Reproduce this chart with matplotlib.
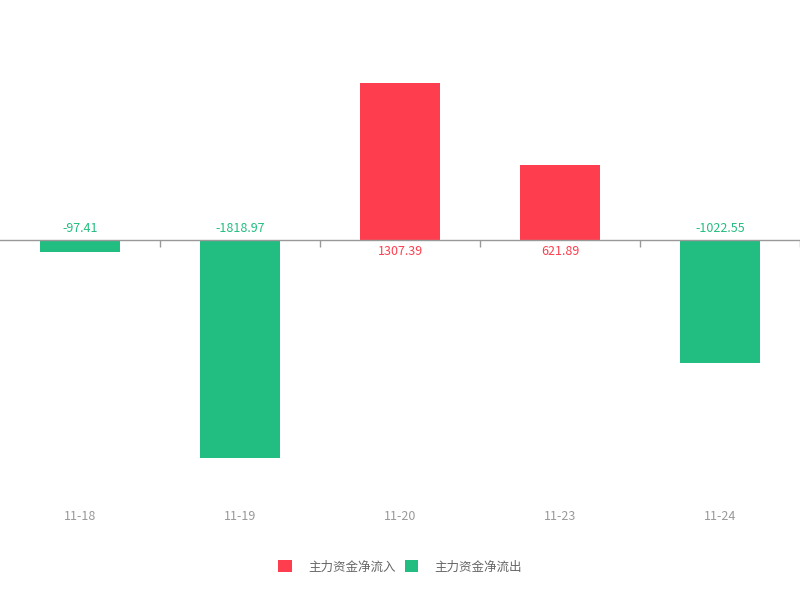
import numpy as np
import matplotlib
matplotlib.use("Agg")
import matplotlib.pyplot as plt
from matplotlib.patches import Patch
from matplotlib.transforms import blended_transform_factory

plt.rcParams['font.family'] = ['Noto Sans CJK SC', 'DejaVu Sans']

dates = ['11-18', '11-19', '11-20', '11-23', '11-24']
flows = [-97.41, -1818.97, 1307.39, 621.89, -1022.55]
labels = ['-97.41', '-1818.97', '1307.39', '621.89', '-1022.55']
legend_names = ['主力资金净流入', '主力资金净流出']

red = '#fe3e4e'
green = '#22bd80'

fig = plt.figure(figsize=(8, 6), dpi=100)
ax = fig.add_axes([0, 100 / 600, 1, 500 / 600])

x = np.arange(len(dates))
colors = [red if v > 0 else green for v in flows]
ax.bar(x, flows, width=0.5, color=colors, zorder=2)

ax.set_xlim(-0.5, len(dates) - 0.5)
ax.set_ylim(-260 / 0.12, 240 / 0.12)

# axis line at zero with ticks between categories
for s in ['top', 'right', 'left']:
    ax.spines[s].set_visible(False)
ax.spines['bottom'].set_position(('data', 0))
ax.spines['bottom'].set_color('#999999')
ax.spines['bottom'].set_linewidth(1)
ax.spines['bottom'].set_zorder(3)
ax.set_xticks(np.arange(0.5, len(dates), 1) - 0.001)
ax.set_xticklabels([])
ax.tick_params(axis='x', direction='out', length=5, color='#999999', width=1)
ax.set_yticks([])

# category labels at bottom of grid
trans = blended_transform_factory(ax.transData, ax.transAxes)
for i, d in enumerate(dates):
    ax.text(i, -17 / 500, d, transform=trans, ha='center', va='center',
            fontsize=9, color='#999999')

# value labels on the zero-line side
for i, (v, lab) in enumerate(zip(flows, labels)):
    off = 8 if v < 0 else -8
    ax.annotate(lab, (i, 0), xytext=(0, off), textcoords='offset points',
                ha='center', va='center', fontsize=9,
                color=red if v > 0 else green)

handles = [Patch(facecolor=red), Patch(facecolor=green)]
fig.legend(handles, legend_names, loc='center', bbox_to_anchor=(0.5, 1 - 567 / 600),
           ncol=2, frameon=False, fontsize=9, labelcolor='#666666',
           handlelength=1.1, handleheight=1.1, handletextpad=1.25,
           columnspacing=0.75)

fig.savefig('out.png', dpi=100)
